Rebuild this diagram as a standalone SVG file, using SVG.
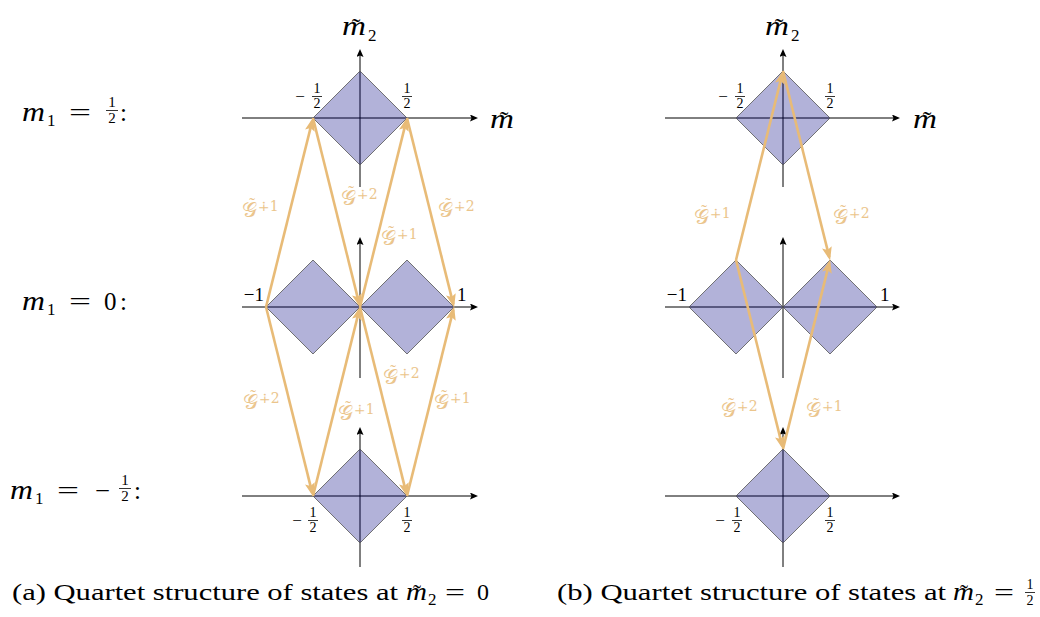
<svg xmlns="http://www.w3.org/2000/svg" width="1040" height="617" viewBox="0 0 1040 617">
<style>
text{font-family:"Liberation Serif","DejaVu Serif",serif;fill:#000}
.mi{font-style:italic}
.ax{stroke:#000;stroke-width:1;fill:none}
.dm{fill:#000080;fill-opacity:0.3;stroke:#555;stroke-opacity:0.8;stroke-width:1}
.ar{stroke:#e8bb77;stroke-width:2.6;fill:none;marker-end:url(#ah)}
.gl text{fill:#ebc58c}
.G{font-family:"DejaVu Sans","Noto Sans",serif;font-size:21px}
.tl{font-size:17px}
.sp{font-family:"DejaVu Serif","DejaVu Sans",serif;font-size:14px}
.fr{font-size:14px}
.bar{stroke:#000;stroke-width:0.8}
</style>
<defs>
<marker id="ah" markerUnits="userSpaceOnUse" viewBox="0 0 14 11" markerWidth="14" markerHeight="11" refX="10" refY="5.5" orient="auto">
<path d="M0,0.5 L13.5,5.5 L0,10.5 L2.8,5.5 Z" fill="#e8bb77"/>
</marker>
<marker id="ax" markerUnits="userSpaceOnUse" viewBox="0 0 9 7" markerWidth="9" markerHeight="7" refX="2" refY="3.5" orient="auto">
<path d="M0,0 L8,3.5 L0,7 L1.5,3.5 Z" fill="#000"/>
</marker>
</defs>

<!-- row labels -->
<g id="row-labels">
<text x="22" y="121" font-size="28" class="mi" textLength="23" lengthAdjust="spacingAndGlyphs">m</text>
<text x="47" y="126" font-size="17">1</text>
<text x="69" y="121" font-size="25" textLength="22" lengthAdjust="spacingAndGlyphs">=</text>
<text x="112" y="107" font-size="15" text-anchor="middle">1</text>
<line class="bar" x1="106" y1="110.5" x2="118" y2="110.5"/>
<text x="112" y="123" font-size="15" text-anchor="middle">2</text>
<text x="120" y="121" font-size="25">:</text>

<text x="22" y="310" font-size="28" class="mi" textLength="23" lengthAdjust="spacingAndGlyphs">m</text>
<text x="47" y="315" font-size="17">1</text>
<text x="69" y="310" font-size="25" textLength="22" lengthAdjust="spacingAndGlyphs">=</text>
<text x="104" y="310" font-size="25">0</text>
<text x="120" y="310" font-size="25">:</text>

<text x="10" y="499" font-size="28" class="mi" textLength="23" lengthAdjust="spacingAndGlyphs">m</text>
<text x="35" y="504" font-size="17">1</text>
<text x="57" y="499" font-size="25" textLength="22" lengthAdjust="spacingAndGlyphs">=</text>
<text x="95" y="499" font-size="25" textLength="15" lengthAdjust="spacingAndGlyphs">−</text>
<text x="125" y="485" font-size="15" text-anchor="middle">1</text>
<line class="bar" x1="119" y1="488.5" x2="131" y2="488.5"/>
<text x="125" y="501" font-size="15" text-anchor="middle">2</text>
<text x="134" y="499" font-size="25">:</text>
</g>

<!-- panel (a) axes -->
<g id="a-axes">
<line class="ax" x1="242" y1="118" x2="472" y2="118" marker-end="url(#ax)"/>
<line class="ax" x1="360" y1="187" x2="360" y2="55" marker-end="url(#ax)"/>
<line class="ax" x1="242" y1="307" x2="472" y2="307" marker-end="url(#ax)"/>
<line class="ax" x1="360" y1="378" x2="360" y2="243" marker-end="url(#ax)"/>
<line class="ax" x1="242" y1="496" x2="472" y2="496" marker-end="url(#ax)"/>
<line class="ax" x1="360" y1="567" x2="360" y2="433" marker-end="url(#ax)"/>
<text x="342" y="35" font-size="28" class="mi" textLength="24" lengthAdjust="spacingAndGlyphs">m</text>
<text x="356" y="36" font-size="26" text-anchor="middle">˜</text>
<text x="368" y="41" font-size="17">2</text>
<text x="490" y="128" font-size="28" class="mi" textLength="24" lengthAdjust="spacingAndGlyphs">m</text>
<text x="504" y="129" font-size="26" text-anchor="middle">˜</text>
</g>

<g id="a-top">
<polygon class="dm" points="360,71 407,118 360,165 313,118"/>
<text x="300" y="102" font-size="17" text-anchor="middle">−</text>
<text x="317" y="93" class="fr" text-anchor="middle">1</text>
<line class="bar" x1="312" y1="96.5" x2="322" y2="96.5"/>
<text x="317" y="108" class="fr" text-anchor="middle">2</text>
<text x="407" y="93" class="fr" text-anchor="middle">1</text>
<line class="bar" x1="402" y1="96.5" x2="412" y2="96.5"/>
<text x="407" y="108" class="fr" text-anchor="middle">2</text>
</g>

<g id="a-mid">
<polygon class="dm" points="313,260 360,307 313,354 266,307"/>
<polygon class="dm" points="407,260 454,307 407,354 360,307"/>
<text x="264" y="301" font-size="19" text-anchor="end">−1</text>
<text x="457" y="301" font-size="19">1</text>
</g>

<g id="a-bot">
<polygon class="dm" points="360,449 407,496 360,543 313,496"/>
<text x="297" y="526" font-size="17" text-anchor="middle">−</text>
<text x="313" y="517" class="fr" text-anchor="middle">1</text>
<line class="bar" x1="308" y1="520.5" x2="318" y2="520.5"/>
<text x="313" y="532" class="fr" text-anchor="middle">2</text>
<text x="407" y="517" class="fr" text-anchor="middle">1</text>
<line class="bar" x1="402" y1="520.5" x2="412" y2="520.5"/>
<text x="407" y="532" class="fr" text-anchor="middle">2</text>
</g>

<!-- panel (b) axes -->
<g id="b-axes">
<line class="ax" x1="665" y1="118" x2="894" y2="118" marker-end="url(#ax)"/>
<line class="ax" x1="783" y1="187" x2="783" y2="55" marker-end="url(#ax)"/>
<line class="ax" x1="665" y1="307" x2="894" y2="307" marker-end="url(#ax)"/>
<line class="ax" x1="783" y1="378" x2="783" y2="243" marker-end="url(#ax)"/>
<line class="ax" x1="665" y1="496" x2="894" y2="496" marker-end="url(#ax)"/>
<line class="ax" x1="783" y1="567" x2="783" y2="433" marker-end="url(#ax)"/>
<text x="765" y="35" font-size="28" class="mi" textLength="24" lengthAdjust="spacingAndGlyphs">m</text>
<text x="779" y="36" font-size="26" text-anchor="middle">˜</text>
<text x="791" y="41" font-size="17">2</text>
<text x="913" y="128" font-size="28" class="mi" textLength="24" lengthAdjust="spacingAndGlyphs">m</text>
<text x="927" y="129" font-size="26" text-anchor="middle">˜</text>
</g>

<g id="b-top">
<polygon class="dm" points="783,71 830,118 783,165 736,118"/>
<text x="723" y="102" font-size="17" text-anchor="middle">−</text>
<text x="740" y="93" class="fr" text-anchor="middle">1</text>
<line class="bar" x1="735" y1="96.5" x2="745" y2="96.5"/>
<text x="740" y="108" class="fr" text-anchor="middle">2</text>
<text x="830" y="93" class="fr" text-anchor="middle">1</text>
<line class="bar" x1="825" y1="96.5" x2="835" y2="96.5"/>
<text x="830" y="108" class="fr" text-anchor="middle">2</text>
</g>

<g id="b-mid">
<polygon class="dm" points="736,260 783,307 736,354 689,307"/>
<polygon class="dm" points="830,260 877,307 830,354 783,307"/>
<text x="687" y="301" font-size="19" text-anchor="end">−1</text>
<text x="880" y="301" font-size="19">1</text>
</g>

<g id="b-bot">
<polygon class="dm" points="783,449 830,496 783,543 736,496"/>
<text x="720" y="526" font-size="17" text-anchor="middle">−</text>
<text x="737" y="517" class="fr" text-anchor="middle">1</text>
<line class="bar" x1="732" y1="520.5" x2="742" y2="520.5"/>
<text x="737" y="532" class="fr" text-anchor="middle">2</text>
<text x="830" y="517" class="fr" text-anchor="middle">1</text>
<line class="bar" x1="825" y1="520.5" x2="835" y2="520.5"/>
<text x="830" y="532" class="fr" text-anchor="middle">2</text>
</g>

<!-- connectors -->
<g id="connectors">
<path class="ar" d="M266,307 L312.28,120.91"/>
<path class="ar" d="M313,118 L359.28,304.09"/>
<path class="ar" d="M360,307 L406.28,120.91"/>
<path class="ar" d="M407,118 L453.28,304.09"/>
<path class="ar" d="M266,307 L312.28,493.09"/>
<path class="ar" d="M313,496 L359.28,309.91"/>
<path class="ar" d="M360,307 L406.28,493.09"/>
<path class="ar" d="M407,496 L453.28,309.91"/>
<path class="ar" d="M736,260 L782.28,73.91"/>
<path class="ar" d="M783,71 L829.28,257.09"/>
<path class="ar" d="M736,260 L782.28,446.09"/>
<path class="ar" d="M783,449 L829.28,262.91"/>
</g>

<!-- connector labels -->
<g id="connector-labels" class="gl">
<g transform="translate(242,217)"><text class="G">𝒢</text><text class="tl" x="10" y="-8" text-anchor="middle">˜</text><text class="sp" x="16" y="-6">∔1</text></g>
<g transform="translate(341,205)"><text class="G">𝒢</text><text class="tl" x="10" y="-8" text-anchor="middle">˜</text><text class="sp" x="16" y="-6">∔2</text></g>
<g transform="translate(381,245)"><text class="G">𝒢</text><text class="tl" x="10" y="-8" text-anchor="middle">˜</text><text class="sp" x="16" y="-6">∔1</text></g>
<g transform="translate(438,217)"><text class="G">𝒢</text><text class="tl" x="10" y="-8" text-anchor="middle">˜</text><text class="sp" x="16" y="-6">∔2</text></g>
<g transform="translate(243,409)"><text class="G">𝒢</text><text class="tl" x="10" y="-8" text-anchor="middle">˜</text><text class="sp" x="16" y="-6">∔2</text></g>
<g transform="translate(338,420)"><text class="G">𝒢</text><text class="tl" x="10" y="-8" text-anchor="middle">˜</text><text class="sp" x="16" y="-6">∔1</text></g>
<g transform="translate(383,384)"><text class="G">𝒢</text><text class="tl" x="10" y="-8" text-anchor="middle">˜</text><text class="sp" x="16" y="-6">∔2</text></g>
<g transform="translate(434,409)"><text class="G">𝒢</text><text class="tl" x="10" y="-8" text-anchor="middle">˜</text><text class="sp" x="16" y="-6">∔1</text></g>
<g transform="translate(694,224)"><text class="G">𝒢</text><text class="tl" x="10" y="-8" text-anchor="middle">˜</text><text class="sp" x="16" y="-6">∔1</text></g>
<g transform="translate(833,224)"><text class="G">𝒢</text><text class="tl" x="10" y="-8" text-anchor="middle">˜</text><text class="sp" x="16" y="-6">∔2</text></g>
<g transform="translate(721,417)"><text class="G">𝒢</text><text class="tl" x="10" y="-8" text-anchor="middle">˜</text><text class="sp" x="16" y="-6">∔2</text></g>
<g transform="translate(806,417)"><text class="G">𝒢</text><text class="tl" x="10" y="-8" text-anchor="middle">˜</text><text class="sp" x="16" y="-6">∔1</text></g>
</g>

<!-- captions -->
<g id="caption-a">
<text x="12" y="600" font-size="24" textLength="386" lengthAdjust="spacingAndGlyphs">(a) Quartet structure of states at</text>
<text x="406" y="600" font-size="26" class="mi" textLength="21" lengthAdjust="spacingAndGlyphs">m</text>
<text x="417" y="601" font-size="24" text-anchor="middle">˜</text>
<text x="428" y="605" font-size="17">2</text>
<text x="445" y="600" font-size="24" textLength="20" lengthAdjust="spacingAndGlyphs">=</text>
<text x="477" y="600" font-size="24">0</text>
</g>
<g id="caption-b">
<text x="557" y="600" font-size="24" textLength="389" lengthAdjust="spacingAndGlyphs">(b) Quartet structure of states at</text>
<text x="953" y="600" font-size="26" class="mi" textLength="21" lengthAdjust="spacingAndGlyphs">m</text>
<text x="964" y="601" font-size="24" text-anchor="middle">˜</text>
<text x="975" y="605" font-size="17">2</text>
<text x="994" y="600" font-size="24" textLength="20" lengthAdjust="spacingAndGlyphs">=</text>
<text x="1030" y="589" font-size="14" text-anchor="middle">1</text>
<line class="bar" x1="1025" y1="592.5" x2="1035" y2="592.5"/>
<text x="1030" y="605" font-size="14" text-anchor="middle">2</text>
</g>
</svg>
